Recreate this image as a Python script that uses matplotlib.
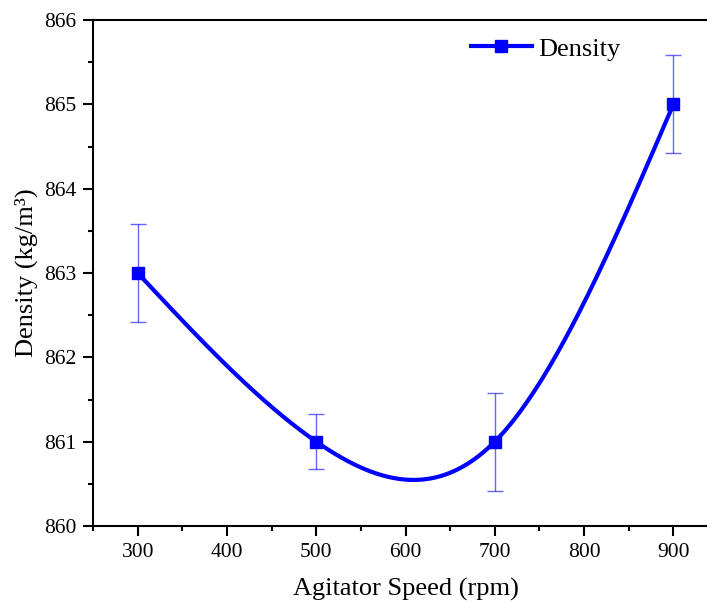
import numpy as np
import matplotlib
matplotlib.use("Agg")
import matplotlib.pyplot as plt
from matplotlib.ticker import MultipleLocator

speed = [300, 500, 700, 900]
density = [863.0, 861.0, 861.0, 865.0]
err = [0.58, 0.33, 0.58, 0.58]

plt.rcParams['font.family'] = ['Liberation Serif', 'DejaVu Serif']

def natural_spline(x, y, n=300):
    x = np.asarray(x, float); y = np.asarray(y, float)
    k = len(x); h = np.diff(x)
    A = np.zeros((k, k)); b = np.zeros(k)
    A[0, 0] = A[-1, -1] = 1
    for i in range(1, k - 1):
        A[i, i - 1] = h[i - 1]; A[i, i] = 2 * (h[i - 1] + h[i]); A[i, i + 1] = h[i]
        b[i] = 6 * ((y[i + 1] - y[i]) / h[i] - (y[i] - y[i - 1]) / h[i - 1])
    M = np.linalg.solve(A, b)
    xs = np.linspace(x[0], x[-1], n)
    idx = np.clip(np.searchsorted(x, xs) - 1, 0, k - 2)
    xi, xi1, hi = x[idx], x[idx + 1], h[idx]
    ys = (M[idx] * (xi1 - xs) ** 3 / (6 * hi) + M[idx + 1] * (xs - xi) ** 3 / (6 * hi)
          + (y[idx] / hi - M[idx] * hi / 6) * (xi1 - xs)
          + (y[idx + 1] / hi - M[idx + 1] * hi / 6) * (xs - xi))
    return xs, ys

fig = plt.figure(figsize=(7.07, 6.04), dpi=100)
W, H = 707, 604
ax = fig.add_axes([93 / W, 1 - 526 / H, (718 - 93) / W, (526 - 20) / H])

xs, ys = natural_spline(speed, density)
ax.plot(xs, ys, color='#0000ff', lw=3, zorder=2)
ax.errorbar(speed, density, yerr=err, fmt='none', ecolor='#0000ff', elinewidth=1,
            capsize=6, capthick=1, alpha=0.6, zorder=1)
ax.plot(speed, density, 's', color='#0000ff', ms=9, zorder=3)
ax.plot([], [], '-s', color='#0000ff', lw=3, ms=9, label='Density')

ax.set_xlim(250, 950)
ax.set_ylim(860, 866)
ax.xaxis.set_major_locator(MultipleLocator(100))
ax.xaxis.set_minor_locator(MultipleLocator(50))
ax.yaxis.set_major_locator(MultipleLocator(1))
ax.yaxis.set_minor_locator(MultipleLocator(0.5))
ax.tick_params(which='major', direction='out', length=7, width=1.5, labelsize=15.5,
               colors='black', pad=5)
ax.tick_params(which='minor', direction='out', length=3.6, width=1.5)
ax.tick_params(top=False, right=False, which='both')
for s in ax.spines.values():
    s.set_linewidth(1.5)
ax.set_xlabel('Agitator Speed (rpm)', fontsize=19, labelpad=12)
ax.set_ylabel('Density (kg/m³)', fontsize=19, labelpad=4)

leg = fig.legend(loc='center left', bbox_to_anchor=(471 / W, 1 - 49 / H), frameon=False,
                 fontsize=19, handlelength=2.3, handletextpad=0.25, borderpad=0,
                 borderaxespad=0)

fig.savefig('out.png', dpi=100)
